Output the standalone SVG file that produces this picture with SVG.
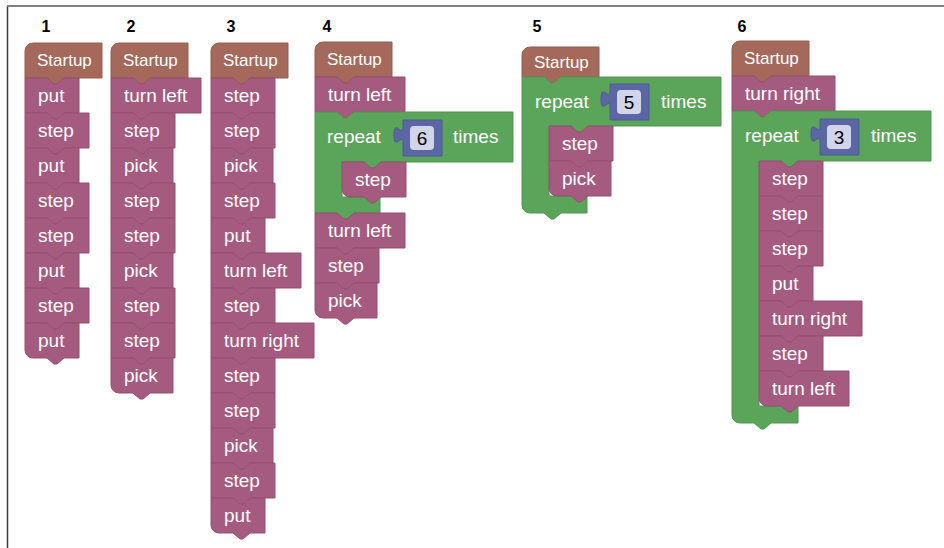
<svg xmlns="http://www.w3.org/2000/svg" width="944" height="548" viewBox="0 0 944 548">
  <style>
    .stmt { fill: #a55b80; stroke: #95516f; stroke-width: 1; }
    .hat { fill: #a5695b; stroke: #945e51; stroke-width: 1; }
    .loop { fill: #5ba55b; stroke: #519551; stroke-width: 1; }
    .num { fill: #5b67a5; stroke: #4f5a94; stroke-width: 1; }
    .field { fill: #d2d5ea; }
    text { font-family: "Liberation Sans", Arial, sans-serif; }
    .lbl { font-size: 19px; fill: #ffffff; }
    .hatlbl { font-size: 17px; fill: #ffffff; }
    .numtxt { font-size: 19px; fill: #000000; text-anchor: middle; }
    .col { font-size: 16px; font-weight: bold; fill: #000000; text-anchor: middle; }
  </style>
  <defs>
    <!-- hat block (program start) -->
    <path id="hat" d="M0,8 a8,8 0 0 1 8,-8 H77 V35 H39 l-7,6 h-3 l-7,-6 H0 Z"/>
    <path id="hat30" d="M0,8 a8,8 0 0 1 8,-8 H77 V30 H39 l-7,6 h-3 l-7,-6 H0 Z"/>
    <!-- statement blocks by width; "e" variants end a stack (rounded bottom-left) -->
    <path id="s54" d="M0,0 H22 l7,6 h3 l7,-6 H54 V35 H39 l-7,6 h-3 l-7,-6 H0 Z"/>
    <path id="e54" d="M0,0 H22 l7,6 h3 l7,-6 H54 V35 H39 l-7,6 h-3 l-7,-6 H8 a8,8 0 0 1 -8,-8 Z"/>
    <path id="s62" d="M0,0 H22 l7,6 h3 l7,-6 H62 V35 H39 l-7,6 h-3 l-7,-6 H0 Z"/>
    <path id="e62" d="M0,0 H22 l7,6 h3 l7,-6 H62 V35 H39 l-7,6 h-3 l-7,-6 H8 a8,8 0 0 1 -8,-8 Z"/>
    <path id="s64" d="M0,0 H22 l7,6 h3 l7,-6 H64 V35 H39 l-7,6 h-3 l-7,-6 H0 Z"/>
    <path id="e64" d="M0,0 H22 l7,6 h3 l7,-6 H64 V35 H39 l-7,6 h-3 l-7,-6 H8 a8,8 0 0 1 -8,-8 Z"/>
    <path id="s90" d="M0,0 H22 l7,6 h3 l7,-6 H90 V35 H39 l-7,6 h-3 l-7,-6 H0 Z"/>
    <path id="e90" d="M0,0 H22 l7,6 h3 l7,-6 H90 V35 H39 l-7,6 h-3 l-7,-6 H8 a8,8 0 0 1 -8,-8 Z"/>
    <path id="s103" d="M0,0 H22 l7,6 h3 l7,-6 H103 V35 H39 l-7,6 h-3 l-7,-6 H0 Z"/>
    <!-- number value block with output tab -->
    <path id="numblk" d="M0,0 V7 c0,11 -9,-9 -9,8 s9,-3 9,8 V36 H39 V0 Z"/>
  </defs>

  <!-- frame -->
  <path d="M7.5,548 V6" fill="none" stroke="#3a3a3a" stroke-width="1.5"/>
  <path d="M7,6 H944" fill="none" stroke="#808080" stroke-width="2"/>

  <!-- column numbers -->
  <g id="labels">
    <text class="col" x="46" y="32">1</text>
    <text class="col" x="131" y="32">2</text>
    <text class="col" x="231" y="32">3</text>
    <text class="col" x="327" y="32">4</text>
    <text class="col" x="537" y="32">5</text>
    <text class="col" x="742" y="32">6</text>
  </g>

  <!-- program 1 -->
  <g id="p1">
    <g id="p1-start"><use href="#hat" class="hat" x="25" y="43"/><text class="hatlbl" x="37" y="66">Startup</text></g>
    <g id="p1-b1"><use href="#s54" class="stmt" x="25" y="78"/><text class="lbl" x="38" y="102">put</text></g>
    <g id="p1-b2"><use href="#s64" class="stmt" x="25" y="113"/><text class="lbl" x="38" y="137">step</text></g>
    <g id="p1-b3"><use href="#s54" class="stmt" x="25" y="148"/><text class="lbl" x="38" y="172">put</text></g>
    <g id="p1-b4"><use href="#s64" class="stmt" x="25" y="183"/><text class="lbl" x="38" y="207">step</text></g>
    <g id="p1-b5"><use href="#s64" class="stmt" x="25" y="218"/><text class="lbl" x="38" y="242">step</text></g>
    <g id="p1-b6"><use href="#s54" class="stmt" x="25" y="253"/><text class="lbl" x="38" y="277">put</text></g>
    <g id="p1-b7"><use href="#s64" class="stmt" x="25" y="288"/><text class="lbl" x="38" y="312">step</text></g>
    <g id="p1-b8"><use href="#e54" class="stmt" x="25" y="323"/><text class="lbl" x="38" y="347">put</text></g>
  </g>

  <!-- program 2 -->
  <g id="p2">
    <g id="p2-start"><use href="#hat" class="hat" x="111" y="43"/><text class="hatlbl" x="123" y="66">Startup</text></g>
    <g id="p2-b1"><use href="#s90" class="stmt" x="111" y="78"/><text class="lbl" x="124" y="102">turn left</text></g>
    <g id="p2-b2"><use href="#s64" class="stmt" x="111" y="113"/><text class="lbl" x="124" y="137">step</text></g>
    <g id="p2-b3"><use href="#s62" class="stmt" x="111" y="148"/><text class="lbl" x="124" y="172">pick</text></g>
    <g id="p2-b4"><use href="#s64" class="stmt" x="111" y="183"/><text class="lbl" x="124" y="207">step</text></g>
    <g id="p2-b5"><use href="#s64" class="stmt" x="111" y="218"/><text class="lbl" x="124" y="242">step</text></g>
    <g id="p2-b6"><use href="#s62" class="stmt" x="111" y="253"/><text class="lbl" x="124" y="277">pick</text></g>
    <g id="p2-b7"><use href="#s64" class="stmt" x="111" y="288"/><text class="lbl" x="124" y="312">step</text></g>
    <g id="p2-b8"><use href="#s64" class="stmt" x="111" y="323"/><text class="lbl" x="124" y="347">step</text></g>
    <g id="p2-b9"><use href="#e62" class="stmt" x="111" y="358"/><text class="lbl" x="124" y="382">pick</text></g>
  </g>

  <!-- program 3 -->
  <g id="p3">
    <g id="p3-start"><use href="#hat" class="hat" x="211" y="43"/><text class="hatlbl" x="223" y="66">Startup</text></g>
    <g id="p3-b1"><use href="#s64" class="stmt" x="211" y="78"/><text class="lbl" x="224" y="102">step</text></g>
    <g id="p3-b2"><use href="#s64" class="stmt" x="211" y="113"/><text class="lbl" x="224" y="137">step</text></g>
    <g id="p3-b3"><use href="#s62" class="stmt" x="211" y="148"/><text class="lbl" x="224" y="172">pick</text></g>
    <g id="p3-b4"><use href="#s64" class="stmt" x="211" y="183"/><text class="lbl" x="224" y="207">step</text></g>
    <g id="p3-b5"><use href="#s54" class="stmt" x="211" y="218"/><text class="lbl" x="224" y="242">put</text></g>
    <g id="p3-b6"><use href="#s90" class="stmt" x="211" y="253"/><text class="lbl" x="224" y="277">turn left</text></g>
    <g id="p3-b7"><use href="#s64" class="stmt" x="211" y="288"/><text class="lbl" x="224" y="312">step</text></g>
    <g id="p3-b8"><use href="#s103" class="stmt" x="211" y="323"/><text class="lbl" x="224" y="347">turn right</text></g>
    <g id="p3-b9"><use href="#s64" class="stmt" x="211" y="358"/><text class="lbl" x="224" y="382">step</text></g>
    <g id="p3-b10"><use href="#s64" class="stmt" x="211" y="393"/><text class="lbl" x="224" y="417">step</text></g>
    <g id="p3-b11"><use href="#s62" class="stmt" x="211" y="428"/><text class="lbl" x="224" y="452">pick</text></g>
    <g id="p3-b12"><use href="#s64" class="stmt" x="211" y="463"/><text class="lbl" x="224" y="487">step</text></g>
    <g id="p3-b13"><use href="#e54" class="stmt" x="211" y="498"/><text class="lbl" x="224" y="522">put</text></g>
  </g>

  <!-- program 4 -->
  <g id="p4">
    <g id="p4-start"><use href="#hat" class="hat" x="315" y="42"/><text class="hatlbl" x="327" y="65">Startup</text></g>
    <g id="p4-b1"><use href="#s90" class="stmt" x="315" y="77"/><text class="lbl" x="328" y="101">turn left</text></g>
    <g id="p4-repeat">
      <path class="loop" d="M315,112 H337 l7,6 h3 l7,-6 H513 V162 H381 l-7,6 h-3 l-7,-6 H342 V197 H380 V213 H354 l-7,6 h-3 l-7,-6 H315 Z"/>
      <text class="lbl" x="327" y="143">repeat</text>
      <use href="#numblk" class="num" x="403" y="120"/>
      <rect class="field" x="410" y="126" width="24" height="24" rx="4"/>
      <text class="numtxt" x="422" y="145">6</text>
      <text class="lbl" x="453" y="143">times</text>
    </g>
    <g id="p4-in1"><use href="#e64" class="stmt" x="342" y="162"/><text class="lbl" x="355" y="186">step</text></g>
    <g id="p4-b2"><use href="#s90" class="stmt" x="315" y="213"/><text class="lbl" x="328" y="237">turn left</text></g>
    <g id="p4-b3"><use href="#s64" class="stmt" x="315" y="248"/><text class="lbl" x="328" y="272">step</text></g>
    <g id="p4-b4"><use href="#e62" class="stmt" x="315" y="283"/><text class="lbl" x="328" y="307">pick</text></g>
  </g>

  <!-- program 5 -->
  <g id="p5">
    <g id="p5-start"><use href="#hat30" class="hat" x="522" y="47"/><text class="hatlbl" x="534" y="68">Startup</text></g>
    <g id="p5-repeat">
      <path class="loop" d="M522,77 H544 l7,6 h3 l7,-6 H721 V126 H588 l-7,6 h-3 l-7,-6 H549 V196 H587 V213 H561 l-7,6 h-3 l-7,-6 H530 a8,8 0 0 1 -8,-8 Z"/>
      <text class="lbl" x="535" y="108">repeat</text>
      <use href="#numblk" class="num" x="610" y="84"/>
      <rect class="field" x="617" y="90" width="24" height="24" rx="4"/>
      <text class="numtxt" x="629" y="109">5</text>
      <text class="lbl" x="661" y="108">times</text>
    </g>
    <g id="p5-in1"><use href="#s64" class="stmt" x="549" y="126"/><text class="lbl" x="562" y="150">step</text></g>
    <g id="p5-in2"><use href="#e62" class="stmt" x="549" y="161"/><text class="lbl" x="562" y="185">pick</text></g>
  </g>

  <!-- program 6 -->
  <g id="p6">
    <g id="p6-start"><use href="#hat" class="hat" x="732" y="41"/><text class="hatlbl" x="744" y="64">Startup</text></g>
    <g id="p6-b1"><use href="#s103" class="stmt" x="732" y="76"/><text class="lbl" x="745" y="100">turn right</text></g>
    <g id="p6-repeat">
      <path class="loop" d="M732,111 H754 l7,6 h3 l7,-6 H931 V161 H798 l-7,6 h-3 l-7,-6 H759 V406 H798 V423 H771 l-7,6 h-3 l-7,-6 H740 a8,8 0 0 1 -8,-8 Z"/>
      <text class="lbl" x="745" y="142">repeat</text>
      <use href="#numblk" class="num" x="820" y="119"/>
      <rect class="field" x="827" y="125" width="24" height="24" rx="4"/>
      <text class="numtxt" x="839" y="144">3</text>
      <text class="lbl" x="871" y="142">times</text>
    </g>
    <g id="p6-in1"><use href="#s64" class="stmt" x="759" y="161"/><text class="lbl" x="772" y="185">step</text></g>
    <g id="p6-in2"><use href="#s64" class="stmt" x="759" y="196"/><text class="lbl" x="772" y="220">step</text></g>
    <g id="p6-in3"><use href="#s64" class="stmt" x="759" y="231"/><text class="lbl" x="772" y="255">step</text></g>
    <g id="p6-in4"><use href="#s54" class="stmt" x="759" y="266"/><text class="lbl" x="772" y="290">put</text></g>
    <g id="p6-in5"><use href="#s103" class="stmt" x="759" y="301"/><text class="lbl" x="772" y="325">turn right</text></g>
    <g id="p6-in6"><use href="#s64" class="stmt" x="759" y="336"/><text class="lbl" x="772" y="360">step</text></g>
    <g id="p6-in7"><use href="#e90" class="stmt" x="759" y="371"/><text class="lbl" x="772" y="395">turn left</text></g>
  </g>
</svg>
